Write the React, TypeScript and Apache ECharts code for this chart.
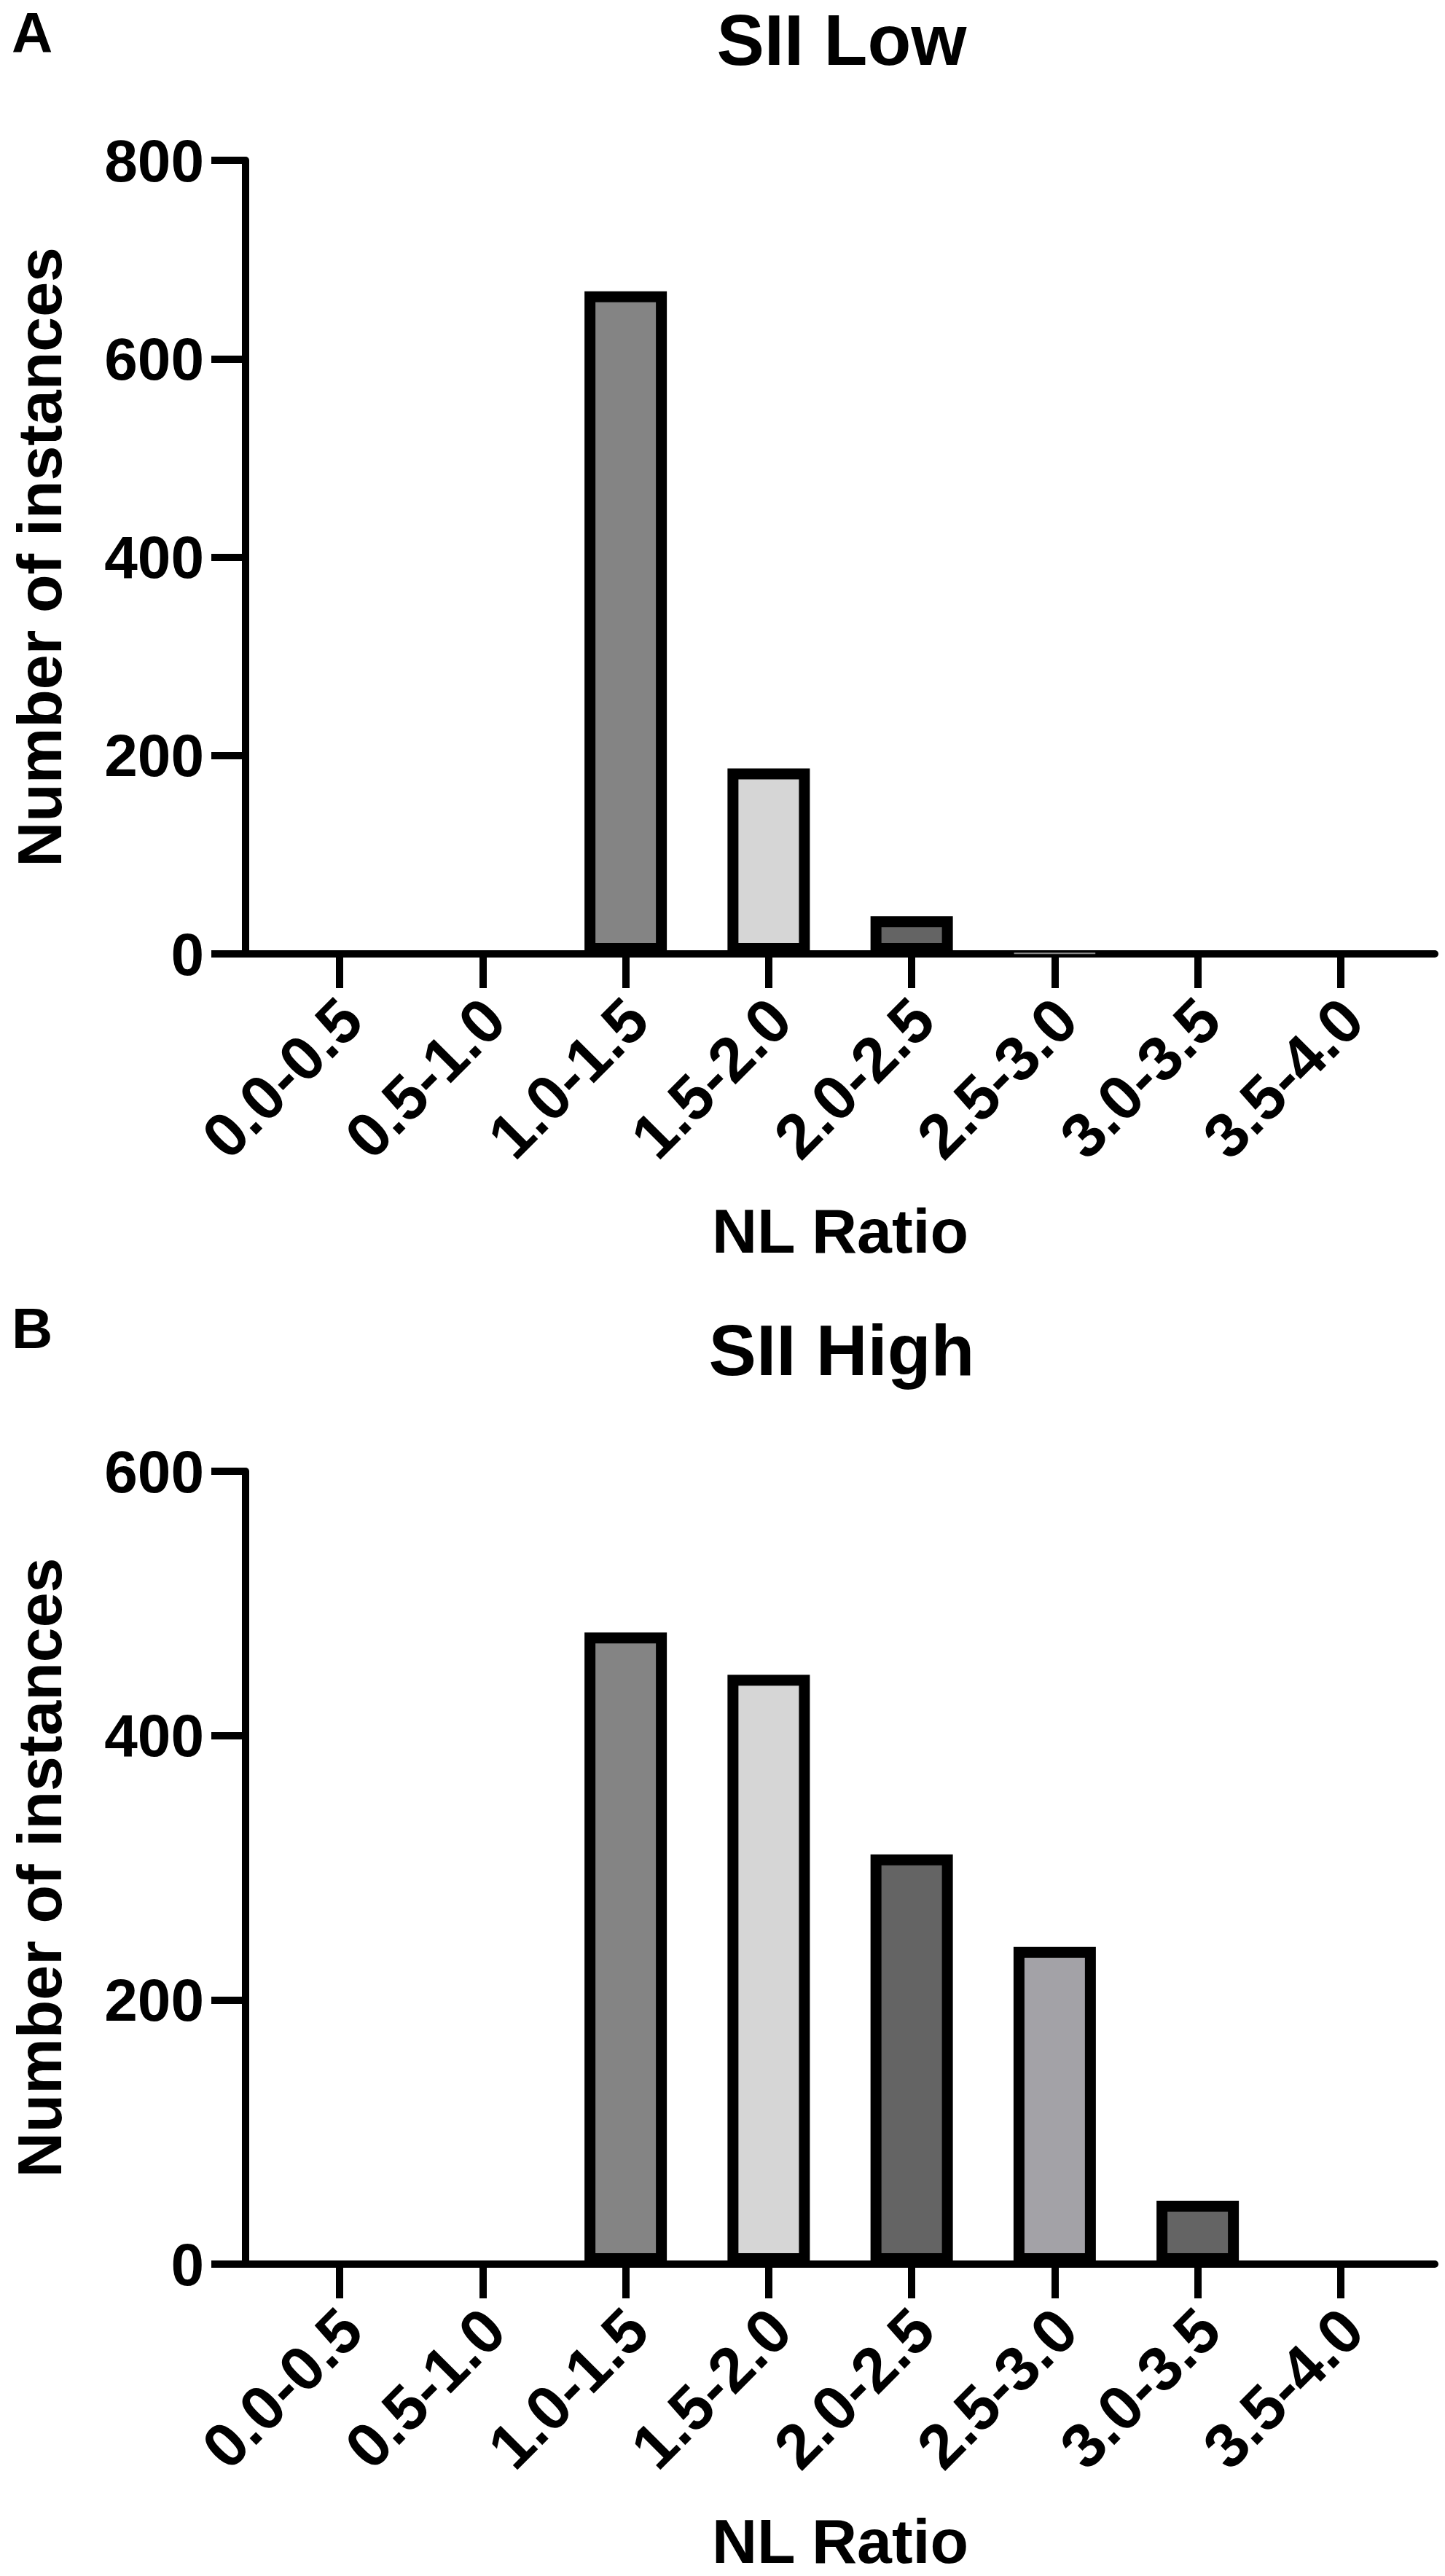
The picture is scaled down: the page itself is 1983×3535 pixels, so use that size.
import React, { useEffect, useRef } from "react";
import * as echarts from "echarts";

const categories = ["0.0-0.5", "0.5-1.0", "1.0-1.5", "1.5-2.0", "2.0-2.5", "2.5-3.0", "3.0-3.5", "3.5-4.0"];
const lowValues = [0, 0, 668, 187, 38, 1, 0, 0];
const highValues = [0, 0, 478, 446, 310, 240, 48, 0];
const barColors = ["#848484", "#d6d6d6", "#848484", "#d6d6d6", "#646464", "#a3a2a7", "#646464", "#a3a2a7"];
const lowAxis = { max: 800, interval: 200 };
const highAxis = { max: 600, interval: 200 };
const titles = ["SII Low", "SII High"];
const letters = ["A", "B"];
const xName = "NL Ratio";
const yName = "Number of instances";

const FONT = '"Liberation Sans", Arial, Helvetica, sans-serif';

export default function App() {
  const ref = useRef<HTMLDivElement>(null);
  useEffect(() => {
    if (!ref.current) return;
    const chart = echarts.init(ref.current, null, { renderer: "svg" });
    const panelTop = [220, 2019];
    const panelH = [1089, 1088];
    const panels = [
      { values: lowValues, axis: lowAxis },
      { values: highValues, axis: highAxis },
    ];
    const grid: any[] = [];
    const xAxis: any[] = [];
    const yAxis: any[] = [];
    const series: any[] = [];
    const graphic: any[] = [];
    panels.forEach((p, k) => {
      const gMain = grid.length;
      grid.push({ left: 368, width: 1570, top: panelTop[k], height: panelH[k], containLabel: false });
      const gLine = grid.length;
      grid.push({ left: 332, width: 1637, top: panelTop[k], height: panelH[k], containLabel: false });
      xAxis.push({
        type: "category",
        gridIndex: gMain,
        data: categories,
        boundaryGap: true,
        axisLine: { show: false },
        axisTick: { show: true, alignWithLabel: true, length: 47, lineStyle: { color: "#000", width: 10 } },
        axisLabel: {
          interval: 0,
          rotate: 45,
          margin: 60,
          verticalAlign: "top",
          lineHeight: 44,
          color: "#000",
          fontFamily: FONT,
          fontWeight: "bold",
          fontSize: 86,
        },
        name: xName,
        nameLocation: "middle",
        nameGap: 380,
        nameTextStyle: {
          color: "#000",
          fontFamily: FONT,
          fontWeight: "bold",
          fontSize: 86,
          verticalAlign: "middle",
          lineHeight: 66,
        },
        splitLine: { show: false },
      });
      xAxis.push({
        type: "value",
        gridIndex: gLine,
        min: 0,
        max: 1,
        axisLine: { show: true, lineStyle: { color: "#000", width: 10 } },
        axisTick: { show: false },
        axisLabel: { show: false },
        splitLine: { show: false },
      });
      yAxis.push({
        type: "value",
        gridIndex: gMain,
        min: 0,
        max: p.axis.max,
        interval: p.axis.interval,
        offset: 31,
        axisLine: { show: true, lineStyle: { color: "#000", width: 10 } },
        axisTick: { show: true, length: 47, lineStyle: { color: "#000", width: 10 } },
        axisLabel: { margin: 57, color: "#000", fontFamily: FONT, fontWeight: "bold", fontSize: 82 },
        splitLine: { show: false },
        name: yName,
        nameLocation: "middle",
        nameRotate: 90,
        nameGap: 283,
        nameTextStyle: {
          color: "#000",
          fontFamily: FONT,
          fontWeight: "bold",
          fontSize: 86,
          verticalAlign: "middle",
          lineHeight: 66,
        },
      });
      yAxis.push({
        type: "value",
        gridIndex: gLine,
        min: 0,
        max: 1,
        show: false,
      });
      series.push({
        type: "bar",
        xAxisIndex: gMain,
        yAxisIndex: gMain,
        barWidth: 113,
        z: 3,
        data: p.values.map((v, i) => ({
          value: v,
          itemStyle: {
            color: barColors[i],
            borderColor: v < 5 ? "#8a8a8a" : "#000",
            borderWidth: v === 0 ? 0 : v < 5 ? 2 : 15,
          },
        })),
      });
      const dy = k === 0 ? 0 : 1798;
      graphic.push({
        type: "text",
        x: 1155,
        y: 55 + dy,
        style: {
          text: titles[k],
          font: `bold 98px ${FONT}`,
          fill: "#000",
          align: "center",
          verticalAlign: "middle",
          lineHeight: 72,
        },
      });
      graphic.push({
        type: "text",
        x: 16,
        y: k === 0 ? 45 : 1823,
        style: {
          text: letters[k],
          font: `bold 78px ${FONT}`,
          fill: "#000",
          align: "left",
          verticalAlign: "middle",
          lineHeight: 60,
        },
      });
    });
    chart.setOption({
      animation: false,
      backgroundColor: "#fff",
      grid,
      xAxis,
      yAxis,
      series,
      graphic,
    });
    return () => chart.dispose();
  }, []);
  return (
    <div
      ref={ref}
      style={{ position: "absolute", left: 0, top: 0, width: 1983, height: 3535, background: "#fff" }}
    />
  );
}
